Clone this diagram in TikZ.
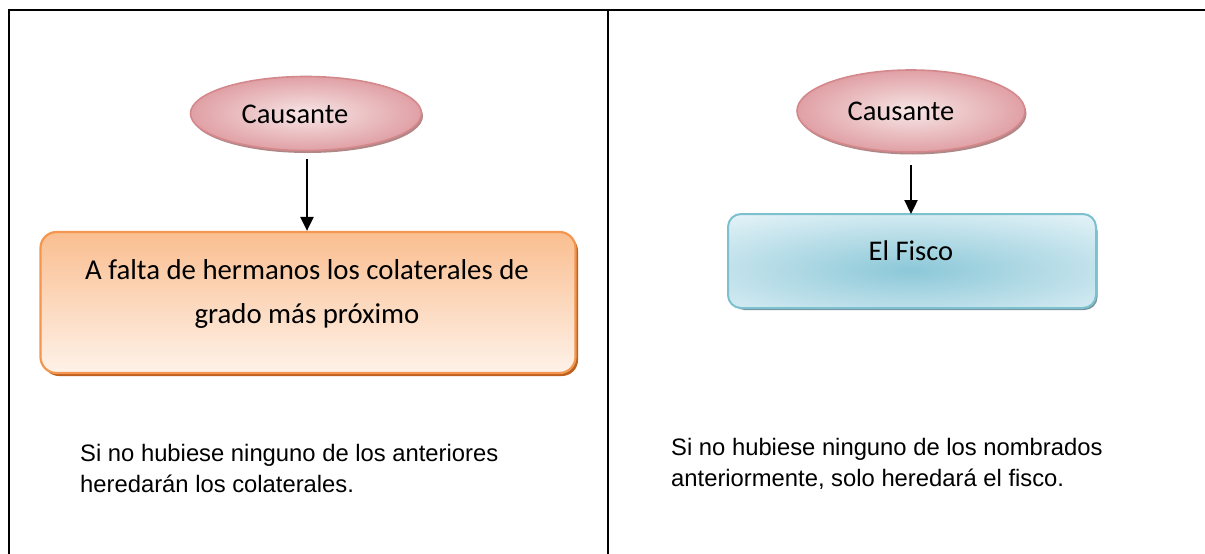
\documentclass[tikz,border=0pt]{standalone}
\usepackage{fontspec}
\setmainfont{Carlito}
\newfontfamily\arialf{Liberation Sans}
\usetikzlibrary{shapes.geometric,shadows,arrows.meta}
\definecolor{pinkedge}{RGB}{212,136,140}
\definecolor{pinkin}{RGB}{247,230,230}
\definecolor{pinkout}{RGB}{224,160,165}
\definecolor{pinkshadow}{RGB}{175,135,135}
\definecolor{orgedge}{RGB}{242,150,80}
\definecolor{orgtop}{RGB}{250,190,144}
\definecolor{orgbot}{RGB}{254,242,233}
\definecolor{orgshadow}{RGB}{190,96,30}
\definecolor{bluedge}{RGB}{125,192,208}
\definecolor{bluefill}{RGB}{229,243,248}
\definecolor{blueglow}{RGB}{140,200,216}
\definecolor{blueshadow}{RGB}{120,145,155}
\begin{document}
\begin{tikzpicture}[x=1pt,y=-1pt,
  causa/.style={ellipse,draw=pinkedge,line width=1.6pt,inner sep=0pt,
    inner color=pinkin,outer color=pinkout,
    general shadow={fill=pinkshadow,shadow xshift=1.5pt,shadow yshift=-2.5pt}},
  ctext/.style={font=\fontsize{28.5}{34}\selectfont,inner sep=0pt},
  orgbox/.style={rectangle,rounded corners=16pt,draw=orgedge,line width=2.2pt,inner sep=0pt,
    top color=orgtop,bottom color=orgbot,
    general shadow={fill=orgshadow,shadow xshift=2.5pt,shadow yshift=-3pt}},
  bluebox/.style={rectangle,rounded corners=13pt,draw=bluedge,line width=2pt,inner sep=0pt,
    fill=bluefill,
    general shadow={fill=blueshadow,shadow xshift=2.5pt,shadow yshift=-3pt}},
  rule/.style={line width=2.6pt,line cap=rect},
  arr/.style={line width=2.4pt,-{Triangle[length=14pt,width=13pt]}},
  note/.style={font=\arialf\fontsize{23.8}{31}\selectfont,align=left,anchor=north west,inner sep=0pt}
]
\useasboundingbox (0,0) rectangle (1205,554);
% table rules
\coordinate (tl) at (9,10);
\coordinate (tr) at (1205,10);
\coordinate (tm) at (608,10);
\coordinate (bl) at (9,554);
\coordinate (bm) at (608,554);
\draw[rule] (tr) -- (tl) -- (bl);
\draw[rule] (tm) -- (bm);

% left column
\node[causa,minimum width=231pt,minimum height=74pt] (c1) at (306,113.5) {};
\node[ctext] (c1t) at (295,114) {Causante};
\node[orgbox,minimum width=535pt,minimum height=141pt] (b1) at (308,302.5) {};
\node[ctext,align=center,font=\fontsize{28.8}{44}\selectfont] (b1t) at (307,294) {A falta de hermanos los colaterales de\\grado más próximo};
\draw[arr] (c1.south) ++(1,8) coordinate (a1s) -- (b1.north -| a1s);

% right column
\node[causa,minimum width=228pt,minimum height=82pt] (c2) at (911,111) {};
\node[ctext] (c2t) at (901,111) {Causante};
\node[bluebox,minimum width=366pt,minimum height=92pt] (b2) at (912,261) {};
\begin{scope}
  \clip[rounded corners=13pt] (b2.south west) rectangle (b2.north east);
  \shade[inner color=blueglow,outer color=bluefill] (911,270) ellipse (300pt and 70pt);
\end{scope}
\draw[draw=bluedge,line width=2pt,rounded corners=13pt] (b2.south west) rectangle (b2.north east);
\node[ctext] (b2t) at (911,251) {El Fisco};
\draw[arr] (c2.south) ++(0,12) coordinate (a2s) -- (b2.north -| a2s);

% notes
\node[note] (n1) at (80,444) {Si no hubiese ninguno de los anteriores\\heredarán los colaterales.};
\node[note] (n2) at (671,438) {Si no hubiese ninguno de los nombrados\\anteriormente, solo heredará el fisco.};
\end{tikzpicture}
\end{document}
